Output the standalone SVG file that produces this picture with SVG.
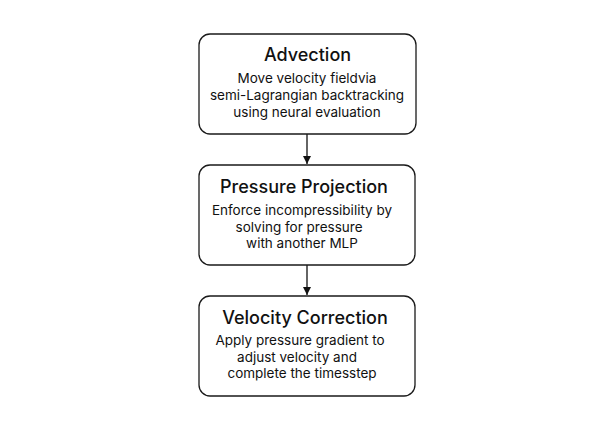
<svg xmlns="http://www.w3.org/2000/svg" width="605" height="430" viewBox="0 0 605 430">
<style>
.box{fill:#fff;stroke:#1a1a1a;stroke-width:1.3}
.t{font-family:Inter,"Liberation Sans",sans-serif;font-size:18px;font-weight:500;fill:#111;text-anchor:middle}
.b{font-family:Inter,"Liberation Sans",sans-serif;font-size:13.5px;fill:#111;text-anchor:middle}
.c{stroke:#111;stroke-width:1.3;fill:none}
</style>
<defs><marker id="ah" markerWidth="10" markerHeight="10" refX="9" refY="5" orient="auto" markerUnits="userSpaceOnUse"><path d="M1,1 L9,5 L1,9 Z" fill="#111"/></marker></defs>
<rect width="605" height="430" fill="#fff"/>
<g id="connectors">
<line class="c" x1="307" y1="134" x2="307" y2="164" marker-end="url(#ah)"/>
<line class="c" x1="307" y1="265" x2="307" y2="295" marker-end="url(#ah)"/>
</g>
<g id="advection">
<rect class="box" x="199" y="34" width="217" height="100" rx="11"/>
<text class="t" x="307.5" y="61">Advection</text>
<text class="b" x="307" y="83">Move velocity fieldvia</text>
<text class="b" x="307" y="100">semi-Lagrangian backtracking</text>
<text class="b" x="307" y="117">using neural evaluation</text>
</g>
<g id="pressure">
<rect class="box" x="199" y="165" width="216" height="100" rx="11"/>
<text class="t" x="304" y="193">Pressure Projection</text>
<text class="b" x="302" y="215">Enforce incompressibility by</text>
<text class="b" x="299" y="232">solving for pressure</text>
<text class="b" x="302" y="248">with another MLP</text>
</g>
<g id="correction">
<rect class="box" x="199" y="296" width="216" height="100" rx="11"/>
<text class="t" x="305" y="324">Velocity Correction</text>
<text class="b" x="300" y="345">Apply pressure gradient to</text>
<text class="b" x="297" y="362">adjust velocity and</text>
<text class="b" x="302" y="378">complete the timesstep</text>
</g>
</svg>
